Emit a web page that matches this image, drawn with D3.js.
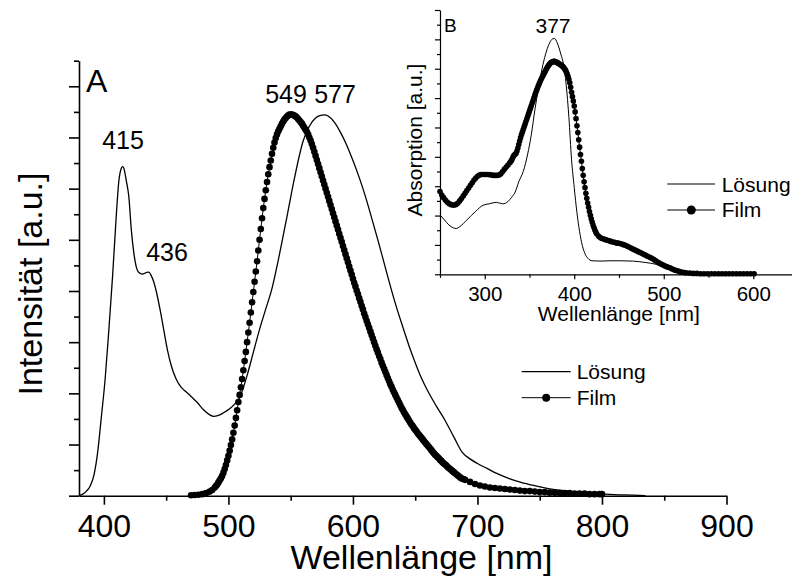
<!DOCTYPE html>
<html><head><meta charset="utf-8">
<script src="https://cdn.jsdelivr.net/npm/d3@7"></script>
<style>
body{margin:0;background:#fff}
svg{display:block;background:#fff}
text{font-family:"Liberation Sans",Arial,Helvetica,sans-serif;fill:#000}
</style>
</head><body>
<svg id="c" width="792" height="579"></svg>
<script>
// ---------- Data: main panel A (emission) ----------
const mainXTicks = [400, 500, 600, 700, 800, 900];
const mainXMinor = [450, 550, 650, 750, 850];
const mainYMajor = [0, 1, 2, 3, 4, 5, 6, 7, 8];
const mainYMinor = [0.5, 1.5, 2.5, 3.5, 4.5, 5.5, 6.5, 7.5, 8.5];

const solNm = [380,383,386,389,392,395,398,401,404,407,410,412,414,415,416,418,420,422,424,426,
  428,431,434,436,438,440,442,445,448,451,454,458,462,466,470,475,480,485,488,492,
  496,501,505,509,515,520,525,530,535,540,547,553,560,565,570,574,577,580,585,590,
  595,600,605,610,615,620,625,630,635,640,645,650,655,660,667,674,681,688,694,700,
  708,715,725,735,745,755,766,780,795,810,825,835];
const solInt = [0,0.03,0.09,0.19,0.40,0.85,1.55,2.28,3.25,4.30,5.50,6.15,6.40,6.43,6.40,6.15,5.85,5.20,4.75,4.47,
  4.36,4.33,4.36,4.37,4.30,4.18,4.00,3.65,3.25,2.85,2.55,2.28,2.12,2.03,1.94,1.82,1.68,1.58,1.55,1.57,
  1.62,1.70,1.79,1.92,2.35,2.80,3.25,3.65,4.05,4.60,5.45,6.20,6.93,7.22,7.38,7.43,7.44,7.42,7.30,7.10,
  6.85,6.55,6.22,5.85,5.43,5.00,4.55,4.10,3.68,3.30,2.93,2.60,2.30,2.05,1.75,1.47,1.15,0.84,0.72,0.63,
  0.53,0.44,0.34,0.26,0.20,0.15,0.11,0.07,0.04,0.02,0.01,0];

const filmNm = [470,473,476,479,482,485,487,489,
  490,491,492,493,494,495,496,497,498,499,
  500,501,502,503,504,505,506,507,508,509,
  510,511,512,513,514,515,516,517,518,519,
  520,521,522,523,524,525,526,527,528,529,
  530,531,532,533,534,535,536,537,538,539,
  540,541,542,543,544,545,546,547,548,549,
  550,551,552,553,554,555,556,557,558,559,
  560,561,562,563,564,565,566,567,568,569,
  570,571,572,573,574,575,576,577,578,579,
  580,581,582,583,584,585,586,587,588,589,
  590,591,592,593,594,595,596,597,598,599,
  600,601,602,603,604,605,606,607,608,609,
  610,611,612,613,614,615,616,617,618,619,
  620,621,622,623,624,625,626,627,628,629,
  630,631,632,633,634,635,636,637,638,639,
  640,641,642,643,644,645,646,647,648,649,
  650,651,652,653,654,655,656,657,658,659,
  660,661,662,663,664,665,666,667,668,669,
  670,671,672,673,674,675,676,677,678,679,
  680,681,682,683,684,685,686,687,688,689,
  690,
  694,698,702,706,710,714,718,722,726,730,734,738,742,746,750,754,758,762,766,770,774,778,782,786,790,794,798,800];
const filmInt = [0.01,0.015,0.02,0.03,0.05,0.08,0.11,0.16,
  0.19,0.22,0.26,0.30,0.34,0.39,0.45,0.52,0.60,0.69,
  0.78,0.88,0.99,1.10,1.23,1.37,1.52,1.67,1.83,1.97,
  2.12,2.28,2.45,2.63,2.81,3.00,3.19,3.38,3.58,3.78,
  3.98,4.18,4.38,4.58,4.79,5.00,5.21,5.42,5.62,5.80,
  5.97,6.13,6.28,6.42,6.55,6.68,6.80,6.90,6.99,7.06,
  7.12,7.17,7.22,7.27,7.31,7.35,7.38,7.41,7.43,7.45,
  7.45,7.45,7.44,7.43,7.41,7.39,7.36,7.33,7.30,7.27,
  7.23,7.19,7.15,7.11,7.06,7.00,6.94,6.87,6.80,6.72,
  6.64,6.56,6.48,6.40,6.32,6.24,6.16,6.08,6.00,5.92,
  5.84,5.76,5.68,5.60,5.52,5.44,5.36,5.28,5.20,5.12,
  5.04,4.96,4.88,4.80,4.72,4.64,4.56,4.48,4.40,4.32,
  4.24,4.16,4.09,4.01,3.94,3.86,3.79,3.71,3.64,3.56,
  3.49,3.42,3.35,3.28,3.21,3.14,3.07,3.00,2.93,2.86,
  2.80,2.73,2.67,2.60,2.54,2.48,2.42,2.36,2.30,2.24,
  2.18,2.13,2.07,2.02,1.97,1.92,1.87,1.82,1.77,1.72,
  1.68,1.63,1.59,1.55,1.51,1.47,1.43,1.39,1.36,1.32,
  1.29,1.26,1.22,1.19,1.16,1.13,1.10,1.07,1.04,1.01,
  0.98,0.95,0.92,0.89,0.86,0.83,0.80,0.78,0.75,0.73,
  0.70,0.68,0.65,0.63,0.61,0.59,0.56,0.54,0.52,0.50,
  0.48,0.46,0.44,0.42,0.40,0.38,0.36,0.34,0.33,0.32,
  0.31,
  0.27,0.23,0.20,0.18,0.16,0.15,0.14,0.13,0.12,0.11,0.10,0.09,0.09,0.08,0.07,0.07,0.06,0.06,0.05,0.05,0.05,0.04,0.04,0.04,0.03,0.03,0.03,0.03];

const peakLabels = ["415", "436", "549", "577"];

// ---------- Data: inset B (absorption) ----------
const insetXTicks = [300, 400, 500, 600];
const insetXMinor = [250, 350, 450, 550];
const insetYMajor = [0, 1, 2, 3, 4, 5, 6, 7, 8, 9];
const insetYMinor = [0.5, 1.5, 2.5, 3.5, 4.5, 5.5, 6.5, 7.5, 8.5];

const solBNm = [250,255,260,265,268,272,280,290,298,305,313,320,326,330,334,338,343,348,352,356,
  360,364,368,372,376,378,381,385,388,391,394,397,400,403,406,409,412,415,420,430,
  440,451,465,480,490,500,510,518,525,535,550,575,600];
const solBInt = [2.02,1.85,1.68,1.58,1.56,1.62,1.85,2.15,2.35,2.40,2.45,2.40,2.48,2.62,2.80,3.15,3.50,4.10,4.75,5.60,
  6.35,7.00,7.50,7.85,8.02,8.03,7.88,7.50,7.15,6.45,5.35,3.90,2.95,2.10,1.45,0.98,0.70,0.55,0.46,0.45,
  0.46,0.46,0.45,0.40,0.35,0.27,0.16,0.08,0.03,0.01,0,0,0];

const filmBNm = [250,252,254,256,258,260,262,264,266,268,270,272,274,276,278,280,282,284,286,288,
  290,292,294,296,298,300,302,304,306,308,310,312,314,316,318,320,322,324,326,328,
  329,330,331,332,333,334,335,336,337,338,339,
  340,341,342,343,344,345,346,347,348,349,
  350,351,352,353,354,355,356,357,358,359,
  360,361,362,363,364,365,366,367,368,369,
  370,371,372,373,374,375,376,377,378,379,
  380,381,382,383,384,385,386,387,388,389,
  390,391,392,393,394,395,396,397,398,399,
  400,401,402,403,404,405,406,407,408,409,
  410,411,412,413,414,415,416,417,418,419,
  420,421,422,423,424,425,
  427,429,431,433,435,437,439,441,443,445,447,449,451,453,455,457,459,461,463,465,
  467,469,471,473,475,477,479,481,483,485,487,489,491,493,495,497,499,501,503,505,
  507,509,511,513,515,517,519,521,523,525,
  529,533,537,541,545,549,553,557,561,565,569,573,577,581,585,589,593,597,601];
const filmBInt = [2.82,2.70,2.61,2.53,2.46,2.41,2.38,2.36,2.36,2.38,2.43,2.50,2.58,2.67,2.76,2.85,2.94,3.03,3.12,3.21,
  3.28,3.34,3.38,3.40,3.40,3.40,3.40,3.40,3.39,3.38,3.37,3.37,3.37,3.38,3.42,3.50,3.58,3.65,3.72,3.80,
  3.84,3.88,3.95,4.02,4.06,4.09,4.12,4.20,4.30,4.42,4.54,
  4.65,4.75,4.84,4.93,5.02,5.11,5.20,5.29,5.38,5.47,
  5.56,5.65,5.74,5.83,5.92,6.01,6.10,6.19,6.27,6.35,
  6.43,6.50,6.57,6.64,6.70,6.76,6.82,6.88,6.94,7.00,
  7.05,7.10,7.14,7.18,7.21,7.23,7.24,7.25,7.25,7.24,
  7.23,7.21,7.19,7.17,7.15,7.13,7.11,7.08,7.05,7.01,
  6.96,6.90,6.83,6.74,6.64,6.52,6.37,6.20,6.05,5.90,
  5.73,5.53,5.30,5.06,4.83,4.58,4.33,4.08,3.85,3.60,
  3.37,3.15,2.95,2.76,2.59,2.43,2.28,2.14,2.01,1.89,
  1.78,1.68,1.59,1.51,1.44,1.38,
  1.30,1.25,1.22,1.20,1.18,1.16,1.14,1.12,1.10,1.09,1.07,1.06,1.05,1.03,1.01,0.99,0.96,0.93,0.90,0.87,
  0.84,0.81,0.78,0.75,0.72,0.69,0.66,0.63,0.60,0.57,0.54,0.50,0.46,0.42,0.38,0.35,0.32,0.29,0.26,0.24,
  0.22,0.19,0.16,0.14,0.12,0.10,0.08,0.07,0.06,0.05,
  0.04,0.03,0.03,0.02,0.02,0.02,0.02,0.02,0.02,0.02,0.02,0.02,0.02,0.02,0.02,0.02,0.02,0.02,0.02];

const legendLabels = ["Lösung", "Film"];

// ---------- helpers ----------
const zip = (a, b) => a.slice(0, Math.min(a.length, b.length)).map((v, i) => [v, b[i]]);
const svg = d3.select("#c");

function styleAxis(g, w) {
  g.select(".domain").attr("stroke", "#000").attr("stroke-width", w);
  g.selectAll(".tick line").attr("stroke", "#000").attr("stroke-width", w);
}

// ================= MAIN PANEL =================
const x = d3.scaleLinear([380, 900], [79, 726.5]);
const y = d3.scaleLinear([0, 8.5], [495.7, 60.7]);

const gx = svg.append("g").attr("transform", `translate(0,${y(0)})`)
  .call(d3.axisBottom(x).tickValues(mainXTicks).tickSize(9).tickSizeOuter(0).tickFormat(d => d));
styleAxis(gx, 1.6);
gx.selectAll(".tick text").attr("y", 41.5).attr("dy", null).style("font-size", "32px");
const gxm = svg.append("g").attr("transform", `translate(0,${y(0)})`)
  .call(d3.axisBottom(x).tickValues(mainXMinor).tickSize(5).tickFormat(""));
gxm.select(".domain").remove();
styleAxis(gxm, 1.6);

const gy = svg.append("g").attr("transform", `translate(${x(380)},0)`)
  .call(d3.axisLeft(y).tickValues(mainYMajor).tickSize(10).tickSizeOuter(0).tickFormat(""));
styleAxis(gy, 1.6);
const gym = svg.append("g").attr("transform", `translate(${x(380)},0)`)
  .call(d3.axisLeft(y).tickValues(mainYMinor).tickSize(5).tickFormat(""));
gym.select(".domain").remove();
styleAxis(gym, 1.6);

svg.append("text").attr("x", 421.5).attr("y", 569).attr("text-anchor", "middle")
  .style("font-size", "34px").text("Wellenlänge [nm]");
svg.append("text").attr("transform", "translate(41.5,284) rotate(-90)").attr("text-anchor", "middle")
  .style("font-size", "34px").text("Intensität [a.u.]");

svg.append("path").datum(zip(solNm, solInt))
  .attr("d", d3.line().x(d => x(d[0])).y(d => y(d[1])).curve(d3.curveMonotoneX)).attr("fill", "none")
  .attr("stroke", "#000").attr("stroke-width", 1.3);
const filmData = zip(filmNm, filmInt);
svg.append("path").datum(filmData)
  .attr("d", d3.line().x(d => x(d[0])).y(d => y(d[1]))).attr("fill", "none")
  .attr("stroke", "#000").attr("stroke-width", 1);
svg.append("g").selectAll("circle").data(filmData).join("circle")
  .attr("cx", d => x(d[0])).attr("cy", d => y(d[1])).attr("r", 3.3).attr("fill", "#000");

svg.append("text").attr("x", 86).attr("y", 92).style("font-size", "32px").text("A");
const peakPos = [[123, 149], [167, 260.7], [286, 103], [335, 103]];
svg.append("g").selectAll("text").data(peakLabels).join("text")
  .attr("x", (d, i) => peakPos[i][0]).attr("y", (d, i) => peakPos[i][1])
  .attr("text-anchor", "middle").style("font-size", "25px").text(d => d);

const legM = svg.append("g");
legM.append("line").attr("x1", 521.7).attr("x2", 570.7).attr("y1", 371.7).attr("y2", 371.7)
  .attr("stroke", "#000").attr("stroke-width", 1.3);
legM.append("line").attr("x1", 521.7).attr("x2", 570.7).attr("y1", 397.7).attr("y2", 397.7)
  .attr("stroke", "#000").attr("stroke-width", 1);
legM.append("circle").attr("cx", 546.2).attr("cy", 397.7).attr("r", 4).attr("fill", "#000");
legM.append("text").attr("x", 576.7).attr("y", 378.5).style("font-size", "21px").text(legendLabels[0]);
legM.append("text").attr("x", 576.7).attr("y", 405).style("font-size", "21px").text(legendLabels[1]);

// ================= INSET B =================
const xi = d3.scaleLinear([250, 650], [440, 798]);
const yi = d3.scaleLinear([0, 9], [274.3, 10]);

const gxi = svg.append("g").attr("transform", `translate(0,${yi(0)})`)
  .call(d3.axisBottom(xi).tickValues(insetXTicks).tickSize(5).tickSizeOuter(0).tickFormat(d => d));
styleAxis(gxi, 1.2);
gxi.selectAll(".tick text").attr("y", 27).attr("dy", null).style("font-size", "20.5px");
const gxim = svg.append("g").attr("transform", `translate(0,${yi(0)})`)
  .call(d3.axisBottom(xi).tickValues(insetXMinor).tickSize(3.5).tickFormat(""));
gxim.select(".domain").remove();
styleAxis(gxim, 1.2);

const gyi = svg.append("g").attr("transform", `translate(${xi(250)},0)`)
  .call(d3.axisLeft(yi).tickValues(insetYMajor).tickSize(5).tickSizeOuter(0).tickFormat(""));
styleAxis(gyi, 1.2);
const gyim = svg.append("g").attr("transform", `translate(${xi(250)},0)`)
  .call(d3.axisLeft(yi).tickValues(insetYMinor).tickSize(3).tickFormat(""));
gyim.select(".domain").remove();
styleAxis(gyim, 1.2);

svg.append("text").attr("x", 618.8).attr("y", 320.5).attr("text-anchor", "middle")
  .style("font-size", "21px").text("Wellenlänge [nm]");
svg.append("text").attr("transform", "translate(421.7,140) rotate(-90)").attr("text-anchor", "middle")
  .style("font-size", "21px").text("Absorption [a.u.]");

svg.append("path").datum(zip(solBNm, solBInt))
  .attr("d", d3.line().x(d => xi(d[0])).y(d => yi(d[1])).curve(d3.curveMonotoneX))
  .attr("fill", "none").attr("stroke", "#000").attr("stroke-width", 1);
const filmBData = zip(filmBNm, filmBInt);
svg.append("path").datum(filmBData)
  .attr("d", d3.line().x(d => xi(d[0])).y(d => yi(d[1])))
  .attr("fill", "none").attr("stroke", "#000").attr("stroke-width", 1);
svg.append("g").selectAll("circle").data(filmBData).join("circle")
  .attr("cx", d => xi(d[0])).attr("cy", d => yi(d[1])).attr("r", 2.8).attr("fill", "#000");

svg.append("text").attr("x", 444).attr("y", 31.7).style("font-size", "19px").text("B");
svg.append("text").attr("x", 553).attr("y", 32.7).attr("text-anchor", "middle")
  .style("font-size", "21px").text("377");

const legB = svg.append("g");
legB.append("line").attr("x1", 667.3).attr("x2", 715).attr("y1", 184).attr("y2", 184)
  .attr("stroke", "#000").attr("stroke-width", 1);
legB.append("line").attr("x1", 667.3).attr("x2", 715).attr("y1", 210).attr("y2", 210)
  .attr("stroke", "#000").attr("stroke-width", 1);
legB.append("circle").attr("cx", 691.3).attr("cy", 210).attr("r", 4.5).attr("fill", "#000");
legB.append("text").attr("x", 721.7).attr("y", 191.7).style("font-size", "21px").text(legendLabels[0]);
legB.append("text").attr("x", 721.7).attr("y", 217.3).style("font-size", "21px").text(legendLabels[1]);
</script>
</body></html>
